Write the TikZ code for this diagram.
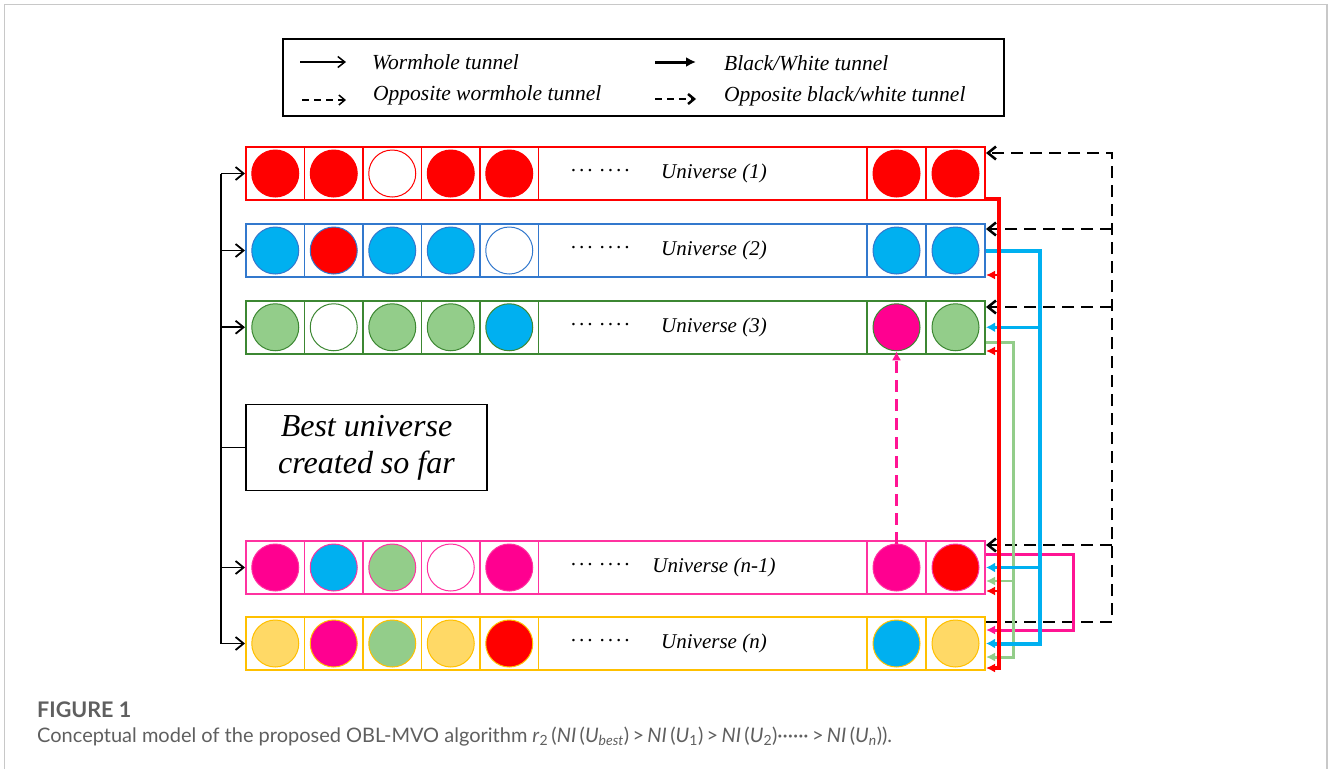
\documentclass[tikz,border=0pt]{standalone}
\usepackage{fontspec}
\setmainfont{Liberation Serif}
\newfontfamily\tnrfont{Liberation Serif}
\newfontfamily\capfont{Lato}
\usetikzlibrary{arrows.meta,calc}
\definecolor{cR}{RGB}{255,0,0}
\definecolor{cB}{RGB}{0,176,240}
\definecolor{cBb}{RGB}{50,120,205}
\definecolor{cG}{RGB}{147,205,138}
\definecolor{cGb}{RGB}{60,135,50}
\definecolor{cM}{RGB}{255,0,144}
\definecolor{cMb}{RGB}{255,50,160}
\definecolor{cMl}{RGB}{255,20,147}
\definecolor{cY}{RGB}{255,217,102}
\definecolor{cYb}{RGB}{255,192,0}
\definecolor{frameg}{RGB}{200,200,200}
\definecolor{capg}{RGB}{95,95,95}
\newcommand\mydots{·\kern3pt·\kern3pt·\kern7pt·\kern3pt·\kern3pt·\kern3pt·}
\tikzset{
  rowbox/.style={rectangle, line width=2, minimum width=739, minimum height=53, inner sep=0},
  ball/.style={circle, minimum size=47, inner sep=0, line width=1},
  lab/.style={font=\tnrfont\fontsize{21}{25}\selectfont\itshape, inner sep=0},
  leg/.style={font=\tnrfont\fontsize{21.5}{25}\selectfont\itshape, inner sep=0, anchor=west},
  wh/.style={line width=1.8, -{Straight Barb[length=8,width=13]}},
  redmain/.style={cR, line width=3.5, -{Latex[length=9,width=9]}},
  redbr/.style={cR, line width=2, -{Latex[length=9,width=9]}},
  bluemain/.style={cB, line width=4, -{Latex[length=9,width=10]}},
  bluebr/.style={cB, line width=3, -{Latex[length=9,width=10]}},
  greenl/.style={cG, line width=3, -{Latex[length=9,width=9]}},
  magl/.style={cMl, line width=3, -{Latex[length=9,width=9]}},
  oppw/.style={black, line width=2.5, dash pattern=on 12pt off 7pt, -{Straight Barb[length=8,width=13]}},
  oppb/.style={cMl, line width=3.5, dash pattern=on 12pt off 7pt, -{Latex[length=9,width=9]}},
}
\newcommand\urow[5]{%
  \node[rowbox, draw=#3] (#1) at (615.5,#2) {};
  \foreach \sx in {304.5,363,421.5,480,538.5,867,926}
    \draw[#3, line width=1.6] (\sx,#2-26.5) -- (\sx,#2+26.5);
  \foreach \f [count=\ci] in {#5} {
    \pgfmathsetmacro\cx{{275.25,333.75,392.25,450.75,509.25,896.5,955.5}[\ci-1]}
    \node[ball, fill=\f, draw=#3] (#1c\ci) at (\cx,#2) {};
  }
  \node[lab] (#1d) at (600,#2) {\mydots};
  \node[lab] (#1l) at (714,#2) {#4};
}
\begin{document}
\begin{tikzpicture}[x=1pt,y=-1pt]
\useasboundingbox (0,0) rectangle (1328,769);
% outer frame
\draw[frameg, line width=1.5] (4.5,769) -- (4.5,4.5) -- (1327,4.5) -- (1327,769);

% legend
\node[draw, line width=1.8, minimum width=721, minimum height=77, inner sep=0] (legend) at (643.5,77.5) {};
\coordinate (l1a) at (300,62); \coordinate (l1b) at (346,62);
\coordinate (l2a) at (302,100); \coordinate (l2b) at (346,100);
\coordinate (l3a) at (655,62); \coordinate (l3b) at (696,62);
\coordinate (l4a) at (655,99); \coordinate (l4b) at (696,99);
\draw[line width=1.5, -{Straight Barb[length=7,width=11]}] (l1a) -- (l1b);
\draw[line width=1.5, dash pattern=on 7pt off 5pt, -{Straight Barb[length=6,width=10]}] (l2a) -- (l2b);
\draw[line width=3, -{Latex[length=10,width=10]}] (l3a) -- (l3b);
\draw[line width=2.5, dash pattern=on 7pt off 5pt, -{Straight Barb[length=6,width=10]}] (l4a) -- (l4b);
\node[leg] (t1) at (372,62) {Wormhole tunnel};
\node[leg] (t2) at (373,95) {Opposite wormhole tunnel};
\node[leg] (t3) at (724,63) {Black/White tunnel};
\node[leg] (t4) at (724,96) {Opposite black/white tunnel};

% universes
\urow{r1}{173.5}{cR}{Universe (1)}{cR,cR,white,cR,cR,cR,cR}
\urow{r2}{250.5}{cBb}{Universe (2)}{cB,cR,cB,cB,white,cB,cB}
\urow{r3}{327.25}{cGb}{Universe (3)}{cG,white,cG,cG,cB,cM,cG}
\urow{rn1}{567.5}{cMb}{Universe (n-1)}{cM,cB,cG,white,cM,cM,cR}
\urow{rn}{643.5}{cYb}{Universe (n)}{cY,cM,cG,cY,cR,cB,cY}

% best universe box and left bracket
\node[draw, line width=1.8, minimum width=241, minimum height=86, inner sep=0, align=center,
      font=\tnrfont\fontsize{32}{37}\selectfont\itshape] (best) at (366.5,447.5) {Best universe\\created so far};
\coordinate (bt) at (221,173.5);
\coordinate (bb) at (221,643.5);
\draw[line width=1.8] (bt) -- (bb);
\draw[line width=1.8] (best.west) -- (best.west -| bt);
\draw[wh] (bt) -- (r1.west);
\draw[wh] (r2.west -| bt) -- (r2.west);
\draw[wh] (r3.west -| bt) -- (r3.west);
\draw[wh] (rn1.west -| bt) -- (rn1.west);
\draw[wh] (bb) -- (rn.west);

% opposite wormhole tunnels (black dashed)
\coordinate (kA) at (1112,153);
\coordinate (kB) at (1112,622);
\draw[oppw] (rn.east |- kB) -- (kB) -- (kA) -- (r1.east |- kA);
\coordinate (k2) at (1112,229);
\coordinate (k3) at (1112,307);
\coordinate (kn1) at (1112,545);
\draw[oppw] (k2) -- (r2.east |- k2);
\draw[oppw] (k3) -- (r3.east |- k3);
\draw[oppw] (kn1) -- (rn1.east |- kn1);

% opposite black/white tunnel (magenta dashed)
\draw[oppb] (rn1c6.north) -- (r3c6.south);

% magenta tunnel from U(n-1)
\coordinate (mA) at (1073,554);
\coordinate (mB) at (1073,630);
\draw[magl] (rn1.east |- mA) -- (mA) -- (mB) -- (rn.east |- mB);

% green tunnel from U3
\coordinate (gA) at (1013,342);
\coordinate (gB) at (1013,657);
\coordinate (gn1) at (1013,581);
\draw[greenl] (r3.east |- gA) -- (gA) -- (gB) -- (rn.east |- gB);
\draw[greenl, line width=2.5] (gn1) -- (rn1.east |- gn1);

% blue tunnel from U2
\coordinate (bA) at (1040,250.5);
\coordinate (bB) at (1040,643.5);
\draw[bluemain] (r2.east) -- (bA) -- (bB) -- (rn.east);
\draw[bluebr] (bA |- r3.east) -- (r3.east);
\draw[bluebr] (bA |- rn1.east) -- (rn1.east);

% red tunnel from U1
\coordinate (redA) at (999,199);
\coordinate (redB) at (999,668);
\coordinate (rj2) at (999,275);
\coordinate (rj3) at (999,351);
\coordinate (rjn1) at (999,591);
\draw[redmain] (r1.east |- redA) -- (redA) -- (redB) -- (rn.east |- redB);
\draw[redbr] (rj2) -- (r2.east |- rj2);
\draw[redbr] (rj3) -- (r3.east |- rj3);
\draw[redbr] (rjn1) -- (rn1.east |- rjn1);

% caption
\node[anchor=base west, inner sep=0, text=capg, font=\capfont\bfseries\fontsize{21.5}{24}\selectfont] (figl) at (37,717) {FIGURE 1};
\node[anchor=base west, inner sep=0, text=capg, font=\capfont\fontsize{20}{23}\selectfont] (capt) at (37,742)
  {Conceptual model of the proposed OBL-MVO algorithm \textit{r}\textsubscript{2}\,(\textit{NI}\,(\textit{U}\textsubscript{\textit{best}})\,>\,\textit{NI}\,(\textit{U}\textsubscript{1})\,>\,\textit{NI}\,(\textit{U}\textsubscript{2})······\,>\,\textit{NI}\,(\textit{U}\textsubscript{\textit{n}})).};
\end{tikzpicture}
\end{document}
